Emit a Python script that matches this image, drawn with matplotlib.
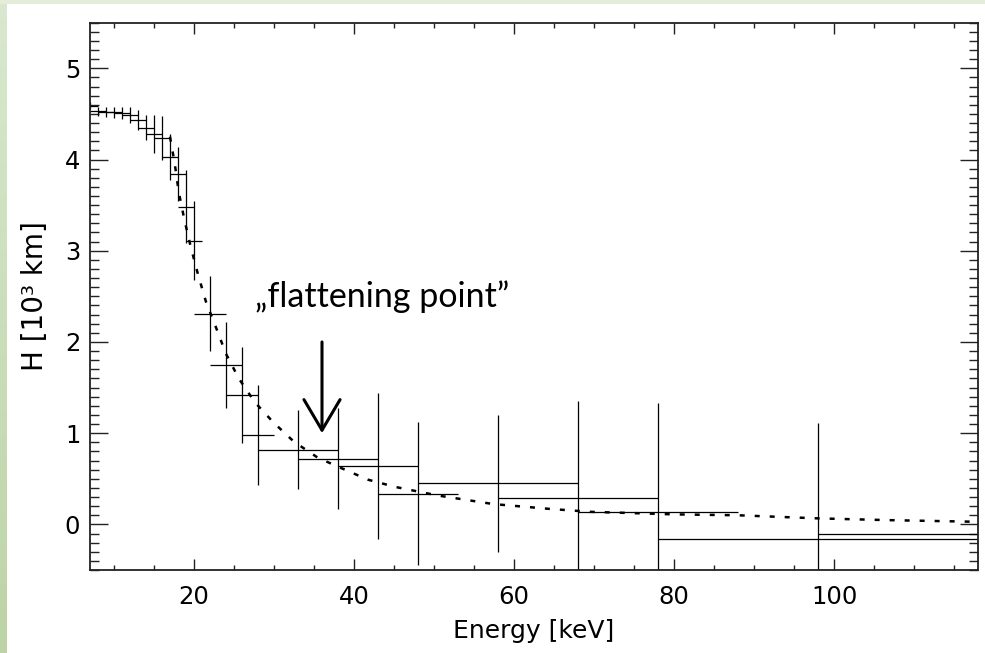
import numpy as np
import matplotlib
matplotlib.use("Agg")
import matplotlib.pyplot as plt
from matplotlib.ticker import MultipleLocator

# ---- data ----
energy = [7, 8, 9, 10, 11, 12, 13, 14, 15, 16, 17, 18, 19, 20,
          22, 24, 26, 28, 33, 38, 43, 48, 58, 68, 78, 98, 118]
energy_err = [1, 1, 1, 1, 1, 1, 1, 1, 1, 1, 1, 1, 1, 1,
              2, 2, 2, 2, 5, 5, 5, 5, 10, 10, 10, 20, 20]
height = [4.59, 4.53, 4.52, 4.52, 4.51, 4.49, 4.43, 4.35, 4.28, 4.24, 4.03, 3.84, 3.48, 3.11,
          2.31, 1.75, 1.42, 0.98, 0.82, 0.72, 0.64, 0.335, 0.45, 0.29, 0.14, -0.16, -0.11]
height_err = [0.04, 0.05, 0.055, 0.06, 0.07, 0.09, 0.11, 0.135, 0.21, 0.24, 0.25, 0.30, 0.40, 0.43,
              0.41, 0.47, 0.53, 0.55, 0.43, 0.555, 0.795, 0.785, 0.75, 1.06, 1.19, 1.27, 1.2]

model_energy = [17.0, 17.6, 18.1, 18.8, 19.6, 20.5, 21.5, 22.7, 24.0, 25.6, 27.6, 29.9,
                32.5, 35.5, 38.6, 41.75, 45.2, 50.4, 57.4, 64.3, 69.5, 80.0, 88.0, 98.0, 106.6, 117.0]
model_height = [4.25, 3.95, 3.64, 3.34, 3.04, 2.74, 2.44, 2.17, 1.87, 1.60, 1.34, 1.12,
                0.906, 0.73, 0.61, 0.49, 0.41, 0.318, 0.223, 0.171, 0.138, 0.11, 0.10, 0.066, 0.047, 0.03]

xticks = [20, 40, 60, 80, 100]
yticks = [0, 1, 2, 3, 4, 5]
annot_text = "\u201eflattening point\u201d"

W, H = 985, 653
fig = plt.figure(figsize=(W / 100, H / 100), dpi=100)
fig.patch.set_facecolor("white")

# green slide border (left gradient strip and top strip)
bg = fig.add_axes([0, 0, 7 / W, 1])
grad = np.linspace(0, 1, 256).reshape(-1, 1)
top_c = np.array([0.85, 0.91, 0.81])
bot_c = np.array([0.74, 0.83, 0.65])
img = (top_c[None, None, :] * (1 - grad[..., None]) + bot_c[None, None, :] * grad[..., None])
bg.imshow(img, aspect="auto", extent=[0, 1, 0, 1])
bg.axis("off")
top = fig.add_axes([0, 1 - 4 / H, 1, 4 / H])
top.set_facecolor((0.89, 0.93, 0.85))
top.set_xticks([]); top.set_yticks([])
for s in top.spines.values():
    s.set_visible(False)

ax = fig.add_axes([90 / W, (H - 570) / H, (978 - 90) / W, (570 - 22.7) / H])

ax.errorbar(energy, height, xerr=energy_err, yerr=height_err, fmt="none",
            ecolor="black", elinewidth=0.9, capsize=0)
ax.plot(model_energy, model_height, color="black", linewidth=1.8,
        linestyle=(0, (2.0, 4.0)))

ax.set_xlim(7, 118)
ax.set_ylim(-0.5, 5.5)
ax.set_xticks(xticks)
ax.set_yticks(yticks)
ax.xaxis.set_minor_locator(MultipleLocator(5))
ax.yaxis.set_minor_locator(MultipleLocator(0.1))

ax.tick_params(axis="x", which="major", direction="in", length=7.7, width=1.0,
               top=True, bottom=True, labelsize=17.5, pad=11, color="#222222")
ax.tick_params(axis="x", which="minor", direction="in", length=3.3, width=1.0,
               top=True, bottom=True, color="#222222")
ax.tick_params(axis="y", which="major", direction="in", length=13, width=1.0,
               left=True, right=True, labelsize=17.5, pad=7, color="#222222")
ax.tick_params(axis="y", which="minor", direction="in", length=6.5, width=1.0,
               left=True, right=True, color="#222222")
for s in ax.spines.values():
    s.set_linewidth(1.3)
    s.set_color("#222222")

ax.set_xlabel("Energy [keV]", fontsize=18, labelpad=7)
ax.set_ylabel("H [10\u00b3 km]", fontsize=20, labelpad=11)

ax.text(27.6, 2.38, annot_text, fontsize=24.5, family=["Lato", "DejaVu Sans"],
        ha="left", va="baseline")
ax.annotate("", xy=(36, 1.0), xytext=(36, 2.0),
            arrowprops=dict(arrowstyle="->,head_length=1.1,head_width=0.65",
                            color="black", lw=2.2, mutation_scale=20,
                            shrinkA=0, shrinkB=0))

fig.savefig("out.png", dpi=100)
